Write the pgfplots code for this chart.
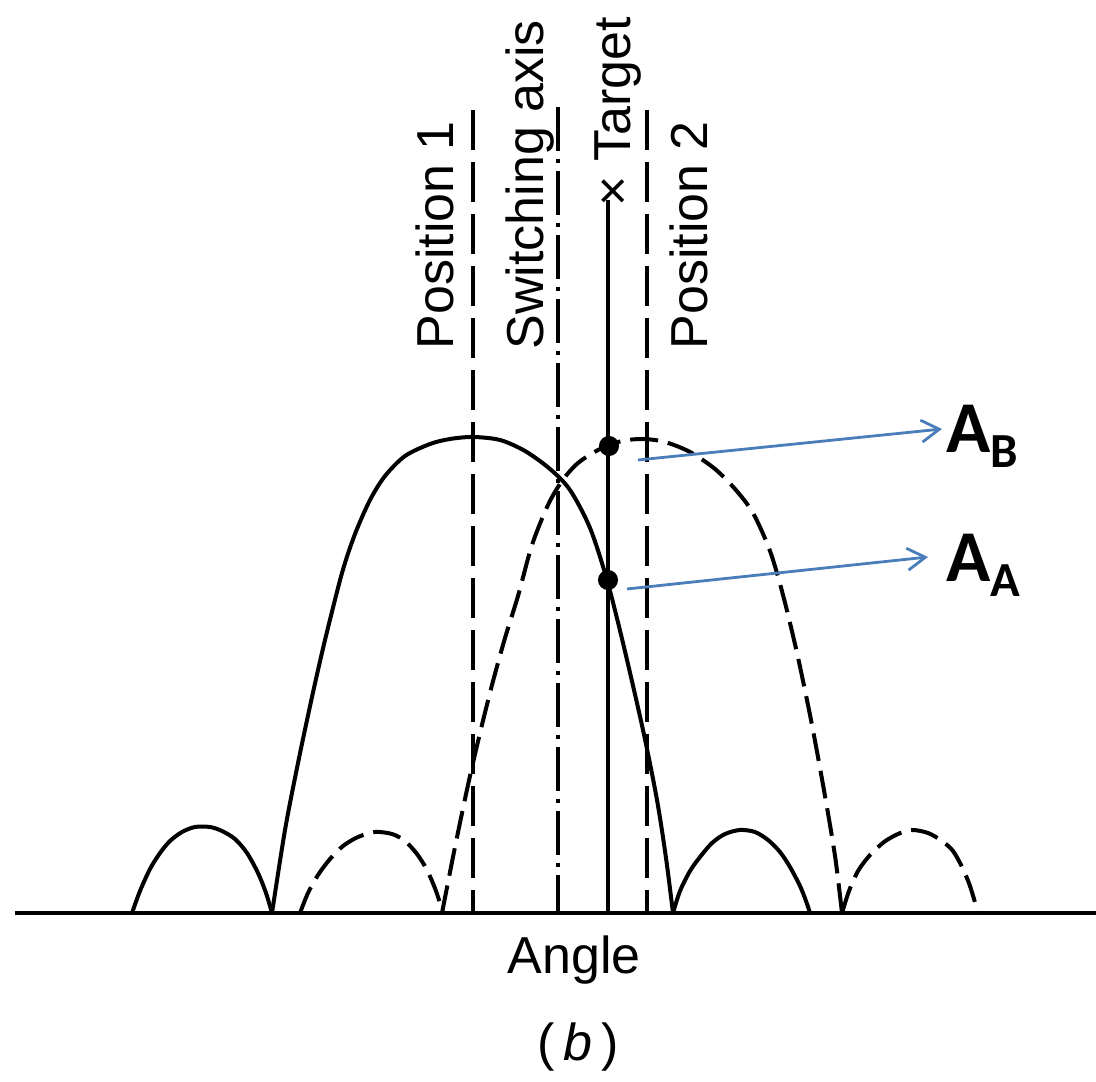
\documentclass[border=0pt]{standalone}
\usepackage{pgfplots}
\pgfplotsset{compat=1.18}
\usepackage{fontspec}
\setmainfont{Liberation Sans}
\newfontfamily\calfont{Carlito}
\usetikzlibrary{arrows.meta}
\definecolor{annblue}{HTML}{4A7EBB}

\begin{document}
\begin{tikzpicture}
\begin{axis}[
  name=ax,
  x=0.5pt, y=0.5pt,
  xmin=0, xmax=1096, ymin=-168, ymax=913,
  hide axis, clip=false,
  every axis plot/.append style={line width=2pt, black},
]
% angle axis
\addplot[line width=1.9pt, line cap=butt] coordinates {(15,0) (1096,0)};

% beam A (solid): sidelobes and main lobe
\addplot[smooth] coordinates {(132,0) (140,22) (150,44) (160,60) (170,72) (182,81)
  (195,86) (210,86) (222,82) (235,74) (247,60) (258,40) (266,20) (272,0)};
\addplot[smooth] coordinates {(272,0) (285,83) (298,150) (312,216) (325,273) (342,340)
  (355,379) (370,413) (385,437) (405,457) (430,469) (450,474) (473,476) (500,473)
  (525,462) (550,444) (570,423) (590,385) (607,333) (623,270) (643,183) (657,113)
  (666,55) (673,0)};
\addplot[smooth] coordinates {(673,0) (680,22) (690,42) (700,56) (712,70) (725,79)
  (740,83) (755,81) (768,73) (780,61) (790,46) (800,27) (806,12) (810,0)};

% beam B (dashed): sidelobes and main lobe
\addplot[smooth, dash pattern=on 14pt off 5pt] coordinates {(300,0) (308,20) (318,38)
  (330,54) (343,67) (358,76) (375,81) (392,79) (405,72) (417,59) (427,43) (436,22) (443,0)};
\addplot[smooth, dash pattern=on 14pt off 5pt] coordinates {(442,0) (455,66) (468,128)
  (480,180) (492,228) (505,275) (518,317) (532,368) (548,408) (562,432) (578,450)
  (600,464) (622,472) (643,474) (665,471) (690,461) (715,444) (735,424) (753,400)
  (770,362) (783,318) (797,260) (810,198) (820,145) (830,88) (836,50) (842,0)};
\addplot[smooth, dash pattern=on 14pt off 5pt] coordinates {(842,0) (849,22) (858,42)
  (870,58) (884,71) (898,79) (912,83) (928,80) (942,72) (953,62) (962,46) (970,27) (978,0)};

% position lines, switching axis and target direction
\addplot[line width=1.6pt, dash pattern=on 20pt off 6pt] coordinates {(473,803) (473,0)};
\addplot[line width=1.6pt, dash pattern=on 22pt off 4pt on 2pt off 4pt] coordinates {(558,806) (558,0)};
\addplot[line width=2pt] coordinates {(608,713) (608,0)};
\addplot[line width=1.6pt, dash pattern=on 20pt off 6pt] coordinates {(647,803) (647,0)};

% received amplitudes on the target direction
\addplot[only marks, mark=*, mark size=4pt] coordinates {(609,467) (608,333)};

% rotated labels
\node[rotate=90, anchor=base west, font=\fontsize{26}{30}\selectfont, inner sep=0pt]
  at (axis cs:453,563) {Position 1};
\node[rotate=90, anchor=base west, font=\fontsize{26}{30}\selectfont, inner sep=0pt]
  at (axis cs:543,563) {Switching axis};
\node[rotate=90, anchor=base west, font=\fontsize{26}{30}\selectfont, inner sep=0pt]
  at (axis cs:630,706) {× Target};
\node[rotate=90, anchor=base west, font=\fontsize{26}{30}\selectfont, inner sep=0pt]
  at (axis cs:707,563) {Position 2};

\node[anchor=base, font=\fontsize{26}{30}\selectfont, inner sep=0pt]
  at (axis cs:574,-60) {Angle};
\node[anchor=base, font=\fontsize{26}{30}\selectfont, inner sep=0pt]
  at (axis cs:578,-147) {(\,\textit{b}\,)};

% annotation arrows
\draw[annblue, line width=1.4pt, -{Straight Barb[length=9pt, width=11pt]}]
  (axis cs:638,453) -- (axis cs:942,484);
\draw[annblue, line width=1.4pt, -{Straight Barb[length=9pt, width=11pt]}]
  (axis cs:627,324) -- (axis cs:928,356);

\node[anchor=base west, inner sep=0pt, font=\calfont\bfseries]
  at (axis cs:946,460) {\fontsize{36.5}{40}\selectfont A\raisebox{-7.5pt}{\fontsize{24.5}{28}\selectfont B}};
\node[anchor=base west, inner sep=0pt, font=\calfont\bfseries]
  at (axis cs:946,331) {\fontsize{36.5}{40}\selectfont A\raisebox{-7.5pt}{\fontsize{24.5}{28}\selectfont A}};
\end{axis}
\pgfresetboundingbox
\useasboundingbox (ax.south west) rectangle (ax.north east);
\end{tikzpicture}
\end{document}
